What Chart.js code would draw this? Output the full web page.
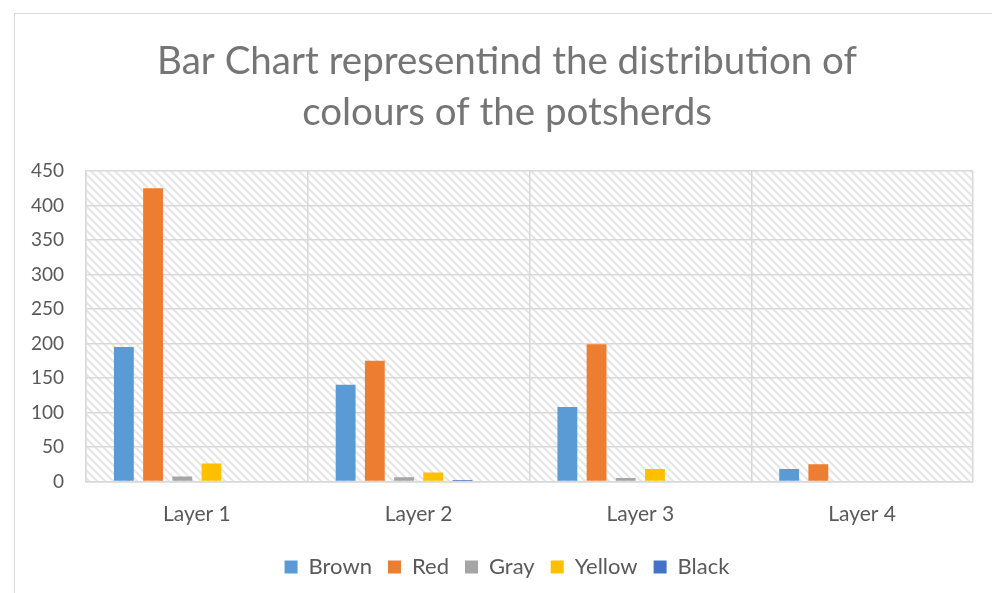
<!DOCTYPE html>
<html><head><meta charset="utf-8">
<script src="https://cdn.jsdelivr.net/npm/chart.js@4.4.1/dist/chart.umd.min.js"></script>
<style>
html,body{margin:0;padding:0;background:#fff;}
#wrap{position:relative;width:992px;height:593px;overflow:hidden;}
#frame{position:absolute;left:14px;top:13px;width:1000px;height:600px;border:1px solid #D9D9D9;box-sizing:border-box;}
canvas{position:absolute;left:0;top:0;}
</style></head>
<body><div id="wrap"><div id="frame"></div><canvas id="c" width="1000" height="600"></canvas></div>
<script>
const categories = ["Layer 1","Layer 2","Layer 3","Layer 4"];
const brown  = [195, 140, 108, 18];
const red    = [425, 175, 199, 25];
const gray   = [7, 6, 5, 0];
const yellow = [26, 13, 18, 1];
const black  = [0, 2, 0, 0];
const seriesNames = ["Brown","Red","Gray","Yellow","Black"];
const yTicks = [0,50,100,150,200,250,300,350,400,450];

const colors = ["#5B9BD5","#ED7D31","#A5A5A5","#FFC000","#4472C4"];
const values = [brown, red, gray, yellow, black];

// hatch pattern
const pc = document.createElement('canvas');
pc.width = 8; pc.height = 8;
const px = pc.getContext('2d');
px.fillStyle = '#fff'; px.fillRect(0,0,8,8);
px.strokeStyle = '#E6E6E6'; px.lineWidth = 2.2;
px.beginPath();
px.moveTo(-2,-2); px.lineTo(10,10);
px.moveTo(-6,2); px.lineTo(2,10);
px.moveTo(6,-2); px.lineTo(10,2);
px.stroke();

const bgPlugin = {
  id:'bg',
  beforeDraw(chart){
    const {ctx, chartArea:a} = chart;
    ctx.save();
    ctx.fillStyle = ctx.createPattern(pc,'repeat');
    ctx.fillRect(a.left,a.top,a.right-a.left,a.bottom-a.top);
    ctx.restore();
  }
};

const datasets = seriesNames.map((n,i)=>({label:n,data:values[i],backgroundColor:colors[i],borderWidth:0}));
datasets.push({label:'',data:[null,null,null,null],backgroundColor:'rgba(0,0,0,0)'});

new Chart(document.getElementById('c'),{
  type:'bar',
  data:{labels:categories,datasets},
  options:{
    responsive:false,animation:false,
    categoryPercentage:0.79,barPercentage:0.68,
    layout:{padding:{left:14,right:0,top:0,bottom:12}},
    plugins:{
      title:{display:true,text:["Bar Chart representind the distribution of","colours of the potsherds"],
        color:'#757575',font:{family:'Lato',size:38.5,weight:'normal',lineHeight:1.325},
        padding:{top:36.5,bottom:32.5}},
      legend:{position:'bottom',
        labels:{filter:(it)=>it.text!=='',boxWidth:13,boxHeight:13,padding:16,color:'#595959',
          font:{family:'Lato',size:22}}},
      tooltip:{enabled:false}
    },
    scales:{
      x:{afterFit(s){s.height=58.6;},
        grid:{color:'#D9D9D9',lineWidth:1.5,drawTicks:false},border:{color:'#D9D9D9',width:1.5},
        ticks:{color:'#595959',font:{family:'Lato',size:21},padding:20}},
      y:{min:0,max:450,
        afterBuildTicks(s){s.ticks=yTicks.map(v=>({value:v}));},
        afterFit(s){s.width=72;},
        grid:{color:'#D9D9D9',lineWidth:1.5,drawTicks:false},border:{color:'#D9D9D9',width:1.5},
        ticks:{color:'#595959',font:{family:'Lato',size:19},padding:22}},
      yRight:{axis:'y',position:'right',min:0,max:450,
        afterFit(s){s.width=27;},
        grid:{display:false,drawTicks:false},border:{display:false},
        ticks:{display:false}}
    }
  },
  plugins:[bgPlugin]
});
</script></body></html>
